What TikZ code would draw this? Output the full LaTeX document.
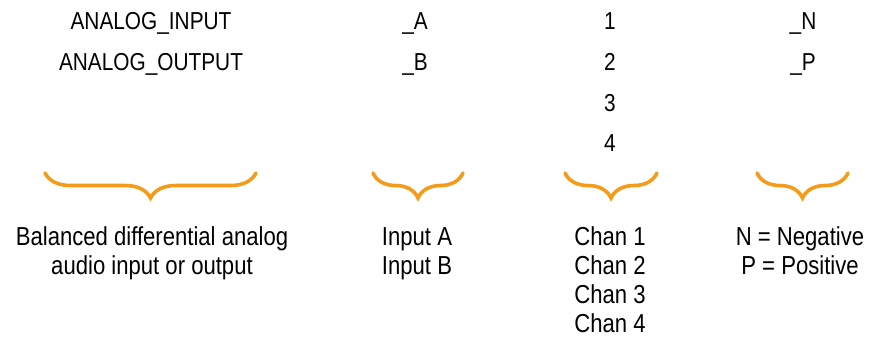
\documentclass[tikz,border=0pt]{standalone}
\usepackage{fontspec}
\setmainfont{Liberation Sans}[FakeStretch=0.85]
\usepackage{tikz}
\usetikzlibrary{decorations.pathreplacing}
\definecolor{Brace}{HTML}{F39C1C}
\tikzset{
 code/.style={anchor=base,inner sep=0pt,font=\fontsize{24.5}{28}\selectfont},
 note/.style={anchor=base,inner sep=0pt,align=center,font=\fontsize{26}{29.3}\selectfont},
 curly/.style={draw=Brace,line width=3.6pt,line cap=round,
   decorate,decoration={brace,amplitude=25pt}}
}
\begin{document}
\begin{tikzpicture}[x=1pt,y=-1pt]
\useasboundingbox (0,0) rectangle (869,337);
% field names
\node[code] (in) at (151,30) {ANALOG\_INPUT};
\node[code] (out) at (151,70.5) {ANALOG\_OUTPUT};
\node[code] (a) at (415,30) {\_A};
\node[code] (b) at (415,70.5) {\_B};
\node[code] (n1) at (610,30) {1};
\node[code] (n2) at (610,70.5) {2};
\node[code] (n3) at (610,111) {3};
\node[code] (n4) at (610,151.5) {4};
\node[code] (neg) at (803,30) {\_N};
\node[code] (pos) at (803,70.5) {\_P};
% braces
\coordinate (l1) at (45,173); \coordinate (r1) at (256,173);
\coordinate (l2) at (373,173); \coordinate (r2) at (463,173);
\coordinate (l3) at (565,173); \coordinate (r3) at (657,173);
\coordinate (l4) at (757,173); \coordinate (r4) at (848,173);
\draw[curly] (r1) -- (l1);
\draw[curly] (r2) -- (l2);
\draw[curly] (r3) -- (l3);
\draw[curly] (r4) -- (l4);
% meanings (base = last line)
\node[note] (kind) at (152,274.3) {Balanced differential analog\\audio input or output};
\node[note] (inp) at (417,274.3) {Input A\\Input B};
\node[note] (chan) at (610,332.9) {Chan 1\\Chan 2\\Chan 3\\Chan 4};
\node[note] (pol) at (800,274.3) {N = Negative\\P = Positive};
\end{tikzpicture}
\end{document}
